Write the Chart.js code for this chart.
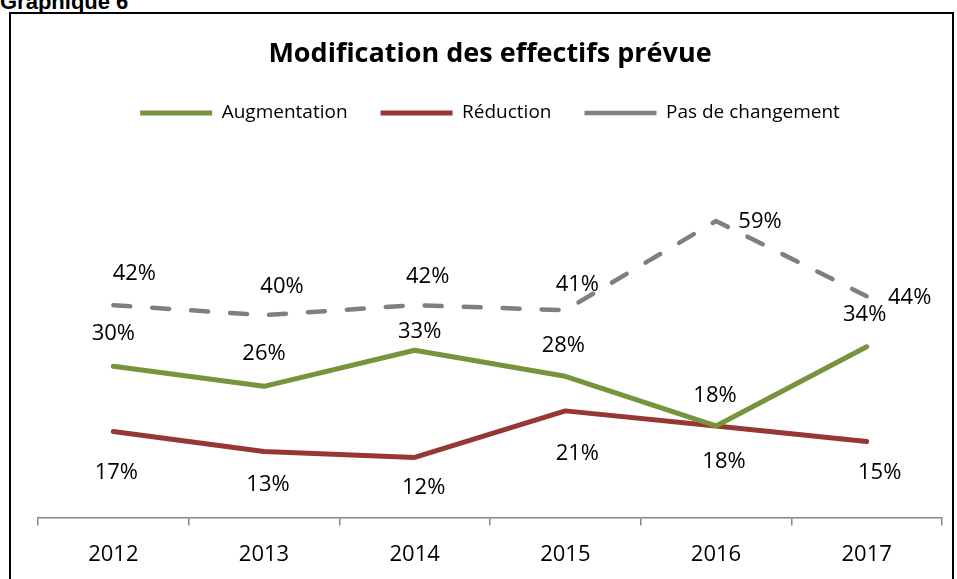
<!DOCTYPE html>
<html lang="fr">
<head>
  <meta charset="UTF-8" />
  <title>Graphique 6 - Modification des effectifs prévue</title>
  <script src="https://cdn.jsdelivr.net/npm/chart.js"></script>
  <style>
    html, body {
      margin: 0;
      padding: 0;
      background: #fff;
      width: 957px;
      height: 579px;
      overflow: hidden;
    }
    .fig-label {
      position: absolute;
      left: 0;
      top: -9px;
      font: bold 22px "Liberation Sans", Arial, sans-serif;
      line-height: 22px;
      color: #000;
    }
    .frame {
      position: absolute;
      left: 9px;
      top: 12px;
      width: 945px;
      height: 600px;
      border: 2px solid #000;
      box-sizing: border-box;
    }
    #chart {
      position: absolute;
      left: 0;
      top: 0;
    }
  </style>
</head>
<body>
  <div class="fig-label">Graphique 6</div>
  <div class="frame"></div>
  <canvas id="chart" width="957" height="579"></canvas>

<script>
  const years = ["2012", "2013", "2014", "2015", "2016", "2017"];
  const augmentation = [30.2, 26.2, 33.4, 28.2, 18.3, 34.1];
  const reduction = [17.2, 13.2, 12.0, 21.3, 18.3, 15.2];
  const pasDeChangement = [42.4, 40.4, 42.4, 41.4, 59.2, 44.2];

  // where each value label sits, relative to its point (dx, dy)
  const labelOffsets = [
    [[0, -34], [0, -34], [5, -20], [-2, -32], [-1, -32], [-2, -34]],
    [[3, 40], [4, 32], [9, 29], [12, 41], [8, 34], [13, 30]],
    [[21, -33], [18, -30], [13, -30], [12, -27], [44, -1], [43, 0]]
  ];

  // push the plot area down below the legend
  const legendGap = {
    id: "legendGap",
    beforeInit(chart) {
      const fit = chart.legend.fit;
      chart.legend.fit = function () {
        fit.call(this);
        this.height += 34.5;
      };
    }
  };

  const valueLabels = {
    id: "valueLabels",
    afterDatasetsDraw(chart) {
      const ctx = chart.ctx;
      const size = 22;
      ctx.save();
      ctx.font = size + "px 'Open Sans', sans-serif";
      ctx.fillStyle = "#000";
      ctx.textAlign = "center";
      ctx.textBaseline = "alphabetic";
      chart.data.datasets.forEach((ds, i) => {
        chart.getDatasetMeta(i).data.forEach((pt, j) => {
          const off = labelOffsets[i][j];
          const text = Math.round(ds.data[j]) + "%";
          ctx.fillText(text, pt.x + off[0], pt.y + off[1] + size * 0.36);
        });
      });
      ctx.restore();
    }
  };

  Chart.defaults.font.family = "'Open Sans', sans-serif";
  Chart.defaults.color = "#000";

  new Chart(document.getElementById("chart"), {
    type: "line",
    data: {
      labels: years,
      datasets: [
        {
          label: "Augmentation",
          data: augmentation,
          borderColor: "#77933C",
          backgroundColor: "#77933C",
          borderWidth: 5,
          borderCapStyle: "round",
          borderJoinStyle: "round",
          pointRadius: 0,
          tension: 0
        },
        {
          label: "Réduction",
          data: reduction,
          borderColor: "#953735",
          backgroundColor: "#953735",
          borderWidth: 5,
          borderCapStyle: "round",
          borderJoinStyle: "round",
          pointRadius: 0,
          tension: 0
        },
        {
          label: "Pas de changement",
          data: pasDeChangement,
          borderColor: "#7F7F7F",
          backgroundColor: "#7F7F7F",
          borderWidth: 4.5,
          borderDash: [17, 22],
          borderCapStyle: "round",
          borderJoinStyle: "round",
          pointRadius: 0,
          tension: 0
        }
      ]
    },
    options: {
      responsive: false,
      animation: false,
      devicePixelRatio: 1,
      layout: {
        padding: { left: 38, right: 15, top: 0, bottom: -5 }
      },
      scales: {
        x: {
          offset: true,
          grid: {
            offset: true,
            drawOnChartArea: false,
            drawTicks: true,
            tickLength: 8,
            color: "#868686",
            lineWidth: 1.5
          },
          border: { display: true, color: "#868686", width: 1.5 },
          ticks: {
            padding: 16,
            color: "#000",
            font: { size: 22 }
          }
        },
        y: {
          display: false,
          min: 0,
          max: 70
        }
      },
      plugins: {
        title: {
          display: true,
          text: "Modification des effectifs prévue",
          color: "#000",
          font: { size: 27, weight: "bold" },
          padding: { top: 38, bottom: 0 }
        },
        legend: {
          display: true,
          labels: {
            usePointStyle: true,
            pointStyle: "line",
            pointStyleWidth: 72,
            padding: 33,
            color: "#000",
            font: { size: 19 }
          }
        },
        tooltip: { enabled: false }
      }
    },
    plugins: [legendGap, valueLabels]
  });
</script>
</body>
</html>
